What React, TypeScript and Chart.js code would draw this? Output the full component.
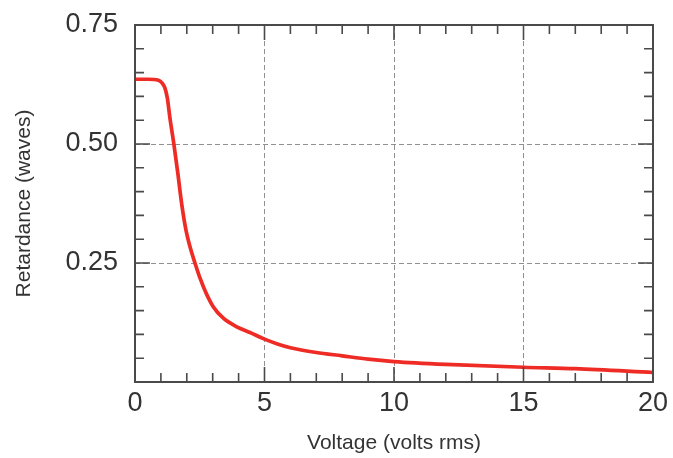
import React, { useEffect, useRef } from "react";
import { Chart, registerables } from "chart.js";

Chart.register(...registerables);

const voltage = [0, 0.5, 0.9, 1.05, 1.16, 1.25, 1.35, 1.5, 1.65, 1.8, 1.98, 2.32, 2.64, 3.02, 3.41, 3.93, 4.44, 5.0, 5.5, 6, 7, 8, 9, 10, 12, 15, 17, 20];
const retardance = [0.636, 0.636, 0.634, 0.628, 0.617, 0.596, 0.554, 0.5, 0.44, 0.375, 0.316, 0.249, 0.2, 0.158, 0.134, 0.116, 0.104, 0.09, 0.08, 0.072, 0.062, 0.055, 0.048, 0.043, 0.037, 0.031, 0.028, 0.02];
const xTickValues = [0, 5, 10, 15, 20];
const yTickLabels = ["0.25", "0.50", "0.75"];
const xTitle = "Voltage (volts rms)";
const yTitle = "Retardance (waves)";

const FRAME = "#4a4a4a";
const TEXT = "#333333";

const frameTicks = {
  id: "frameTicks",
  afterDatasetsDraw(chart: any) {
    const { ctx, chartArea, scales } = chart;
    const { left, right, top, bottom } = chartArea;
    const xs = scales.x;
    const ys = scales.y;
    ctx.save();
    ctx.strokeStyle = FRAME;
    ctx.lineWidth = 1.6;
    ctx.beginPath();
    for (let v = 1; v < 20; v++) {
      const px = xs.getPixelForValue(v);
      const len = v % 5 === 0 ? 15 : 9;
      ctx.moveTo(px, bottom);
      ctx.lineTo(px, bottom - len);
      ctx.moveTo(px, top);
      ctx.lineTo(px, top + len);
    }
    for (let i = 1; i < 15; i++) {
      const v = i * 0.05;
      const py = ys.getPixelForValue(v);
      const len = i % 5 === 0 ? 15 : 9;
      ctx.moveTo(left, py);
      ctx.lineTo(left + len, py);
      ctx.moveTo(right, py);
      ctx.lineTo(right - len, py);
    }
    ctx.stroke();
    ctx.lineWidth = 2;
    ctx.strokeRect(left, top, right - left, bottom - top);
    ctx.restore();
  },
};

export default function App() {
  const ref = useRef<HTMLCanvasElement>(null);
  useEffect(() => {
    document.body.style.margin = "0";
    const chart = new Chart(ref.current as HTMLCanvasElement, {
      type: "line",
      data: {
        datasets: [
          {
            data: voltage.map((x, i) => ({ x, y: retardance[i] })),
            borderColor: "#ee2b24",
            borderWidth: 3.7,
            pointRadius: 0,
            cubicInterpolationMode: "monotone",
            fill: false,
          },
        ],
      },
      options: {
        responsive: false,
        animation: false,
        layout: { padding: { left: 0, top: 25, right: 20, bottom: 0 } },
        plugins: { legend: { display: false }, tooltip: { enabled: false } },
        scales: {
          x: {
            type: "linear",
            min: 0,
            max: 20,
            afterBuildTicks: (s: any) => {
              s.ticks = xTickValues.map((v) => ({ value: v }));
            },
            afterFit: (s: any) => {
              s.height = 76;
              s.paddingLeft = 0;
              s.paddingRight = 0;
            },
            ticks: {
              font: { family: "Liberation Sans", size: 27 },
              color: TEXT,
              padding: 5,
              maxRotation: 0,
              callback: (v: any) => String(v),
            },
            grid: {
              drawTicks: false,
              lineWidth: 1,
              color: (c: any) =>
                c.tick && c.tick.value > 0 && c.tick.value < 20 ? "#909090" : "rgba(0,0,0,0)",
            },
            border: { display: false, dash: [5, 3] },
            title: {
              display: true,
              text: xTitle,
              color: TEXT,
              font: { family: "Liberation Sans", size: 21 },
              padding: { top: 2, bottom: 2 },
            },
          },
          y: {
            type: "linear",
            min: 0,
            max: 0.75,
            afterBuildTicks: (s: any) => {
              s.ticks = [0, ...yTickLabels.map(Number)].map((v) => ({ value: v }));
            },
            afterFit: (s: any) => {
              s.width = 135;
              s.paddingTop = 0;
              s.paddingBottom = 0;
            },
            ticks: {
              font: { family: "Liberation Sans", size: 27 },
              color: TEXT,
              padding: 17,
              callback: (v: any) => {
                const lbl = yTickLabels.find((t) => Math.abs(Number(t) - v) < 1e-9);
                return lbl ?? "";
              },
            },
            grid: {
              drawTicks: false,
              lineWidth: 1,
              color: (c: any) =>
                c.tick && c.tick.value > 0.001 && c.tick.value < 0.749 ? "#909090" : "rgba(0,0,0,0)",
            },
            border: { display: false, dash: [5, 3] },
            title: {
              display: true,
              text: yTitle,
              color: TEXT,
              font: { family: "Liberation Sans", size: 21 },
              padding: { top: 12, bottom: 12 },
            },
          },
        },
      },
      plugins: [frameTicks],
    } as any);
    return () => chart.destroy();
  }, []);
  return (
    <div style={{ position: "absolute", left: 0, top: 0, width: 673, height: 458, background: "#fff" }}>
      <canvas ref={ref} width={673} height={458} />
    </div>
  );
}
